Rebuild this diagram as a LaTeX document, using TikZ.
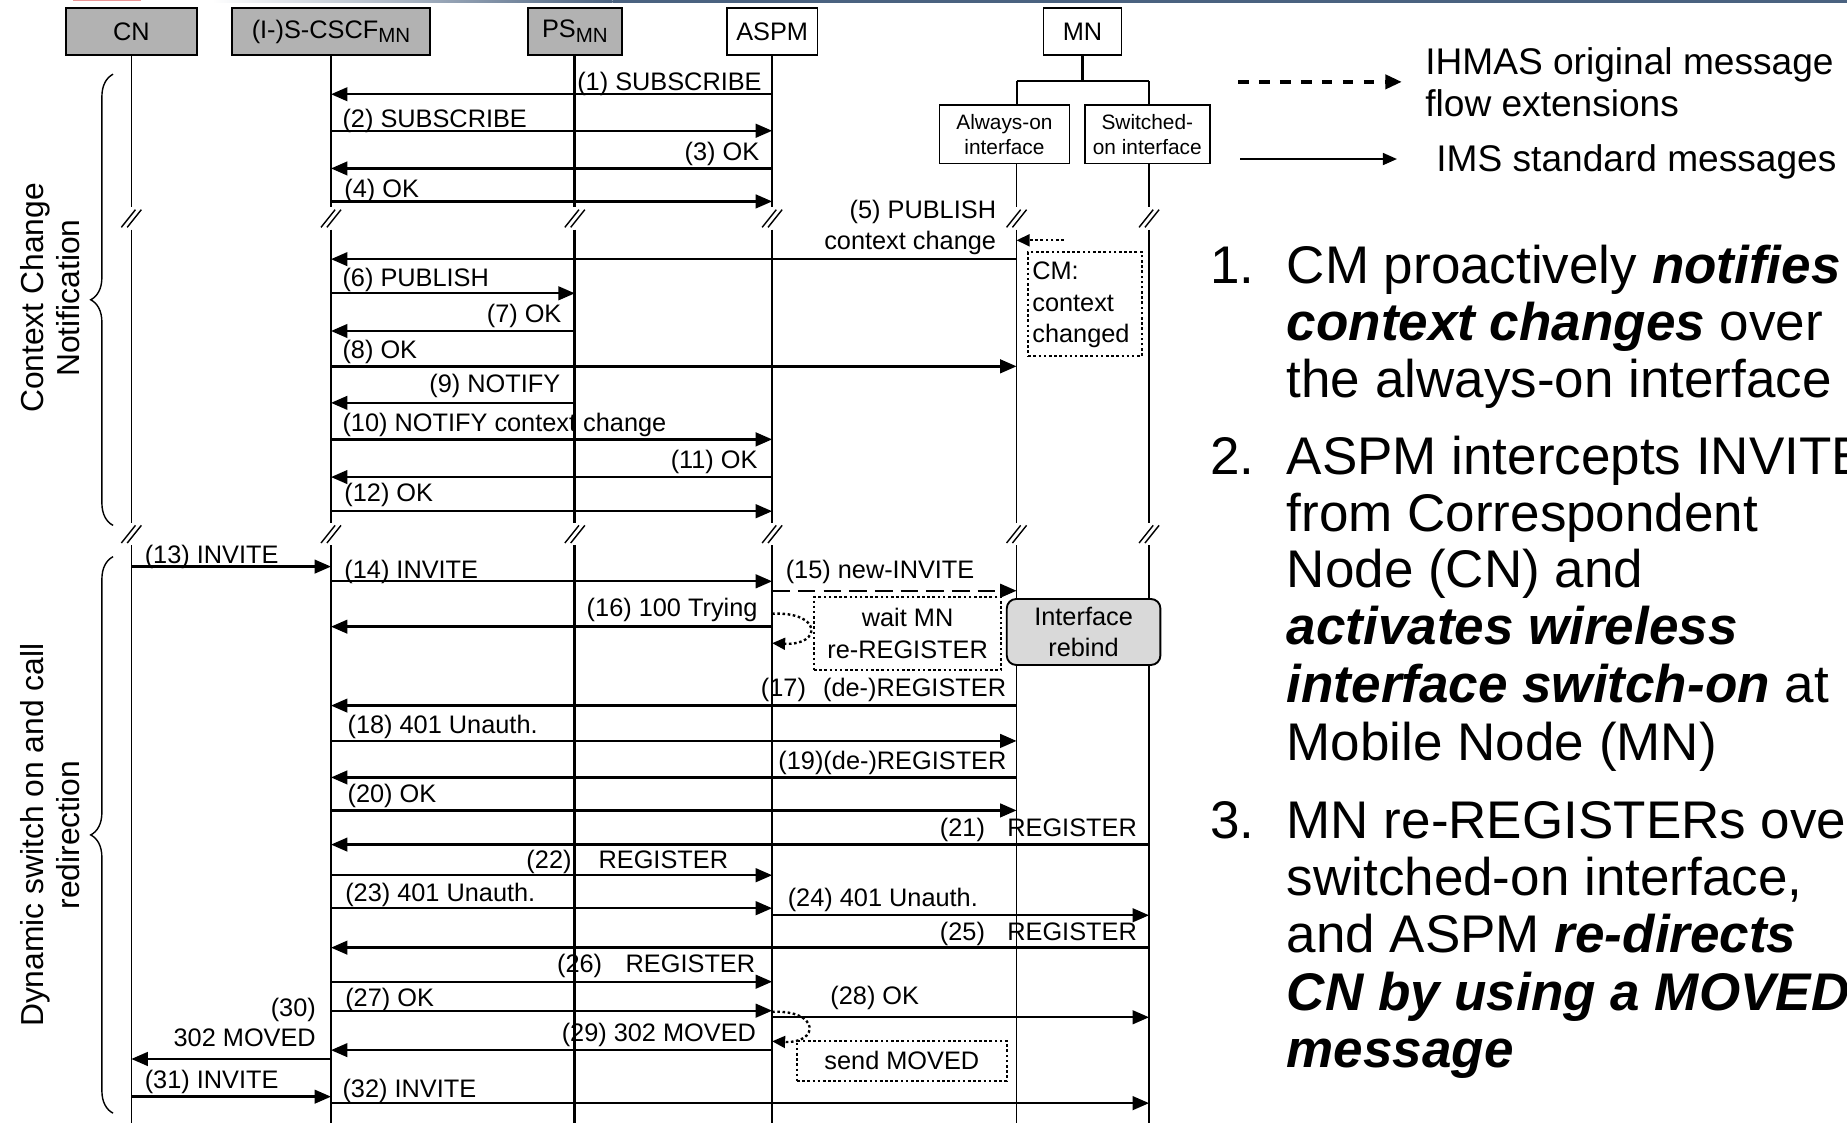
\documentclass[tikz,border=0pt]{standalone}
\usepackage{fontspec}
\setmainfont{Liberation Sans}
\usetikzlibrary{arrows.meta,calc,decorations.pathreplacing}
\definecolor{hdrgray}{RGB}{178,178,178}
\definecolor{rebindgray}{RGB}{217,217,217}
\definecolor{bandblue}{RGB}{74,98,128}
\definecolor{bandred}{RGB}{236,150,150}
\newcommand\mnsub{\raisebox{-2pt}{\fontsize{8.7pt}{9pt}\selectfont MN}}
\newcommand\bfit[1]{\textbf{\textit{#1}}}
\newcommand\seqlife[2]{\draw[#2] (#1) -- (#1 |- 0,176) (#1 |- 0,195) -- (#1 |- 0,444) (#1 |- 0,463) -- (#1 |- 0,953);}
\newcommand\seqbreak[2]{\draw[brkline] ($(#1 |- 0,#2)+(-8.5,0)$) -- ++(12,-15) ($(#1 |- 0,#2)+(-3.5,0)$) -- ++(12,-15);}
\newcommand\seqmsg[4][msg]{\draw[#1] (#2 |- 0,#4) -- (#3 |- 0,#4);}
\begin{document}
\begin{tikzpicture}[x=0.5pt,y=-0.5pt,
  font=\fontsize{10.75pt}{13pt}\selectfont,
  hdr/.style={draw, line width=0.7pt, minimum height=19.75pt, inner sep=0pt},
  ifbox/.style={draw, line width=0.7pt, minimum height=24.85pt, inner sep=0pt, align=center, font=\fontsize{8.85pt}{10.5pt}\selectfont},
  lifethin/.style={line width=0.65pt},
  lifethick/.style={line width=1.15pt},
  brkline/.style={line width=0.6pt},
  msg/.style={line width=1pt, -{Triangle[length=7pt,width=5.8pt]}},
  newmsg/.style={msg, dash pattern=on 7.5pt off 3.4pt},
  dotarrow/.style={line width=1pt, dash pattern=on 1.1pt off 1.1pt, -{Triangle[length=5.5pt,width=5pt]}},
  dotbox/.style={draw, line width=0.9pt, dash pattern=on 1.1pt off 1.1pt, inner sep=0pt, fill=white},
  lbl/.style={inner sep=0pt},
  bracestyle/.style={decorate, decoration={brace, amplitude=9.5pt}, line width=0.6pt},
  rotlbl/.style={rotate=90, align=center, inner sep=0pt, font=\fontsize{13.5pt}{15.5pt}\selectfont},
  legtxt/.style={inner sep=0pt, anchor=base west, font=\fontsize{15.75pt}{16.3pt}\selectfont},
  bigtxt/.style={inner sep=0pt, anchor=base west, font=\fontsize{22.5pt}{24pt}\selectfont},
]
\useasboundingbox (0,0) rectangle (1568,953);
% top band
\shade[left color=white, right color=bandblue] (180,0) rectangle (520,2.5);
\fill[bandblue] (520,0) rectangle (1568,2.5);
\fill[bandred] (62,0) rectangle (120,1.2);

% headers
\node[hdr, fill=hdrgray, minimum width=55.5pt] (CN) at (111.5,26.75) {CN};
\node[hdr, fill=hdrgray, minimum width=84pt] (CSCF) at (281,26.75) {(I-)S-CSCF\mnsub};
\node[hdr, fill=hdrgray, minimum width=40pt] (PS) at (488,26.75) {PS\mnsub};
\node[hdr, fill=white, minimum width=38.5pt] (ASPM) at (655.5,26.75) {ASPM};
\node[hdr, fill=white, minimum width=33pt] (MN) at (919,26.75) {MN};
\node[ifbox, minimum width=55.25pt] (AObox) at (852.7,114) {Always-on\\interface};
\node[ifbox, minimum width=53pt] (SWbox) at (974,114) {Switched-\\on interface};

\coordinate (cn) at (CN.south);
\coordinate (cs) at (CSCF.south);
\coordinate (ps) at (PS.south);
\coordinate (as) at (ASPM.south);
\coordinate (ao) at (863,139);
\coordinate (sw) at (975.5,139);

% MN tree
\draw[line width=1.1pt] (MN.south) -- (MN.south |- 0,69);
\draw[line width=0.8pt] (ao |- 0,69) -- (sw |- 0,69);
\draw[line width=0.8pt] (ao |- 0,69) -- (ao |- AObox.north);
\draw[line width=0.8pt] (sw |- 0,69) -- (sw |- SWbox.north);

% lifelines
\seqlife{cn}{lifethin}
\seqlife{cs}{lifethick}
\seqlife{ps}{lifethick}
\seqlife{as}{lifethin}
\seqlife{ao}{lifethin}
\seqlife{sw}{lifethin}
\foreach \l in {cn,cs,ps,as,ao,sw}{
  \seqbreak{\l}{193}
  \seqbreak{\l}{461}
}

% braces and side labels
\draw[bracestyle] (96,446) -- (96,63);
\draw[bracestyle] (96,945) -- (96,472.6);
\node[rotlbl] (ctxlbl) at (42.5,253) {Context Change\\Notification};
\node[rotlbl] (dynlbl) at (42.5,709) {Dynamic switch on and call\\redirection};

% messages
\seqmsg{as}{cs}{80}
\seqmsg{cs}{as}{111}
\seqmsg{as}{cs}{143}
\seqmsg{cs}{as}{171}
\seqmsg{ao}{cs}{220}
\seqmsg{cs}{ps}{249}
\seqmsg{ps}{cs}{281}
\seqmsg{cs}{ao}{311}
\seqmsg{ps}{cs}{342}
\seqmsg{cs}{as}{373}
\seqmsg{as}{cs}{405}
\seqmsg{cs}{as}{434}
\seqmsg{cn}{cs}{481}
\seqmsg{cs}{as}{493.5}
\seqmsg[newmsg]{as}{ao}{501.5}
\seqmsg{as}{cs}{532}
\seqmsg{ao}{cs}{599}
\seqmsg{cs}{ao}{629}
\seqmsg{ao}{cs}{660}
\seqmsg{cs}{ao}{688}
\seqmsg{sw}{cs}{717}
\seqmsg{cs}{as}{743}
\seqmsg{cs}{as}{771}
\seqmsg{as}{sw}{777}
\seqmsg{sw}{cs}{804.5}
\seqmsg{cs}{as}{833.4}
\seqmsg{cs}{as}{858}
\seqmsg{as}{sw}{863.6}
\seqmsg{as}{cs}{891.5}
\seqmsg{cs}{cn}{899}
\seqmsg{cn}{cs}{931}
\seqmsg{cs}{sw}{936.5}

% message labels
\node[lbl, anchor=base east] (l1) at (647,77) {(1) SUBSCRIBE};
\node[lbl, anchor=base west] (l2) at (290.4,108) {(2) SUBSCRIBE};
\node[lbl, anchor=base east] (l3) at (645,136.5) {(3) OK};
\node[lbl, anchor=base west] (l4) at (292,168) {(4) OK};
\node[lbl, anchor=base east] (l5a) at (846,185.5) {(5) PUBLISH};
\node[lbl, anchor=base east] (l5b) at (846,212) {context change};
\node[lbl, anchor=base west] (l6) at (290.4,243) {(6) PUBLISH};
\node[lbl, anchor=base east] (l7) at (477,274) {(7) OK};
\node[lbl, anchor=base west] (l8) at (290.4,304) {(8) OK};
\node[lbl, anchor=base east] (l9) at (476,333) {(9) NOTIFY};
\node[lbl, anchor=base west] (l10) at (290.4,366.5) {(10) NOTIFY context change};
\node[lbl, anchor=base east] (l11) at (643.5,398) {(11) OK};
\node[lbl, anchor=base west] (l12) at (292,426) {(12) OK};
\node[lbl, anchor=base west] (l13) at (122.5,478) {(13) INVITE};
\node[lbl, anchor=base west] (l14) at (292,491) {(14) INVITE};
\node[lbl, anchor=base west] (l15) at (666.7,491) {(15) new-INVITE};
\node[lbl, anchor=base east] (l16) at (643.5,523.5) {(16) 100 Trying};
\node[lbl, anchor=base east] (l17) at (854.5,591.5) {(17)\hspace{7.3pt}(de-)REGISTER};
\node[lbl, anchor=base west] (l18) at (294.7,622.5) {(18) 401 Unauth.};
\node[lbl, anchor=base east] (l19) at (854.8,653) {(19)(de-)REGISTER};
\node[lbl, anchor=base west] (l20) at (294.7,681.5) {(20) OK};
\node[lbl, anchor=base east] (l21) at (965.5,710) {(21)\hspace{9.5pt}REGISTER};
\node[lbl, anchor=base east] (l22) at (618.5,737) {(22)\hspace{11.5pt}REGISTER};
\node[lbl, anchor=base west] (l23) at (292.7,765) {(23) 401 Unauth.};
\node[lbl, anchor=base west] (l24) at (668.4,769.7) {(24) 401 Unauth.};
\node[lbl, anchor=base east] (l25) at (965.5,798) {(25)\hspace{9.5pt}REGISTER};
\node[lbl, anchor=base east] (l26) at (641.5,826) {(26)\hspace{10pt}REGISTER};
\node[lbl, anchor=base west] (l27) at (292.7,854.6) {(27) OK};
\node[lbl, anchor=base west] (l28) at (704.6,853) {(28) OK};
\node[lbl, anchor=base east] (l29) at (642.2,884.3) {(29) 302 MOVED};
\node[lbl, anchor=base east] (l30a) at (268.5,863) {(30)};
\node[lbl, anchor=base east] (l30b) at (268.5,888.5) {302 MOVED};
\node[lbl, anchor=base west] (l31) at (122.5,923.7) {(31) INVITE};
\node[lbl, anchor=base west] (l32) at (290.4,931.8) {(32) INVITE};

% CM box and dotted arrow
\node[dotbox, anchor=north west, minimum width=48.3pt, minimum height=44.2pt] (CMbox) at (872,213) {};
\node[lbl, anchor=base west] (cm1) at (876,237.7) {CM:};
\node[lbl, anchor=base west] (cm2) at (876,264.6) {context};
\node[lbl, anchor=base west] (cm3) at (876,291) {changed};
\coordinate (cmA) at (903,204);
\draw[dotarrow] (cmA) -- (ao |- cmA);

% wait MN box, interface rebind, send MOVED
\node[dotbox, minimum width=79.5pt, minimum height=31pt, align=center, font=\fontsize{10.75pt}{13.5pt}\selectfont] (waitbox) at (770.5,538) {wait MN\\re-REGISTER};
\node[draw, line width=0.8pt, fill=rebindgray, rounded corners=4pt, minimum width=65.2pt, minimum height=28pt, inner sep=0pt, align=center, font=\fontsize{10.75pt}{12.8pt}\selectfont] (rebind) at (919.9,536.5) {Interface\\rebind};
\node[dotbox, minimum width=89pt, minimum height=17pt] (sendbox) at (765.6,900.5) {send MOVED};
\draw[dotarrow] (as |- 0,521) .. controls (698,519) and (698,548) .. (as |- 0,546);
\draw[dotarrow] (as |- 0,859) .. controls (696,857) and (696,886) .. (as |- 0,884);

% legend
\coordinate (lg1a) at (1051,69.5);
\coordinate (lg1b) at (1190,69.5);
\coordinate (lg2a) at (1053,135);
\coordinate (lg2b) at (1186,135);
\draw[line width=1.6pt, dash pattern=on 4.5pt off 4.4pt, -{Triangle[length=7pt,width=6pt]}] (lg1a) -- (lg1b);
\draw[line width=1pt, -{Triangle[length=6pt,width=5pt]}] (lg2a) -- (lg2b);
\node[legtxt] (lgt1) at (1209.6,63.5) {IHMAS original message};
\node[legtxt] (lgt2) at (1209.6,98.5) {flow extensions};
\node[legtxt] (lgt3) at (1219,146) {IMS standard messages};

% right-hand list
\node[bigtxt] (n1) at (1027,241) {1.};
\node[bigtxt] (r1a) at (1092,241) {CM proactively \bfit{notifies}};
\node[bigtxt] (r1b) at (1092,289) {\bfit{context changes} over};
\node[bigtxt] (r1c) at (1092,337.5) {the always-on interface};
\node[bigtxt] (n2) at (1027,402.5) {2.};
\node[bigtxt] (r2a) at (1092,402.5) {ASPM intercepts INVITE};
\node[bigtxt] (r2b) at (1092,451) {from Correspondent};
\node[bigtxt] (r2c) at (1092,499) {Node (CN) and};
\node[bigtxt] (r2d) at (1092,547.5) {\bfit{activates wireless}};
\node[bigtxt] (r2e) at (1092,596.5) {\bfit{interface switch-on} at};
\node[bigtxt] (r2f) at (1092,646) {Mobile Node (MN)};
\node[bigtxt] (n3) at (1027,712) {3.};
\node[bigtxt] (r3a) at (1092,712) {MN re-REGISTERs over};
\node[bigtxt] (r3b) at (1092,760.5) {switched-on interface,};
\node[bigtxt] (r3c) at (1092,809) {and ASPM \bfit{re-directs}};
\node[bigtxt] (r3d) at (1092,857.5) {\bfit{CN by using a MOVED}};
\node[bigtxt] (r3e) at (1092,906.5) {\bfit{message}};
\end{tikzpicture}
\end{document}
